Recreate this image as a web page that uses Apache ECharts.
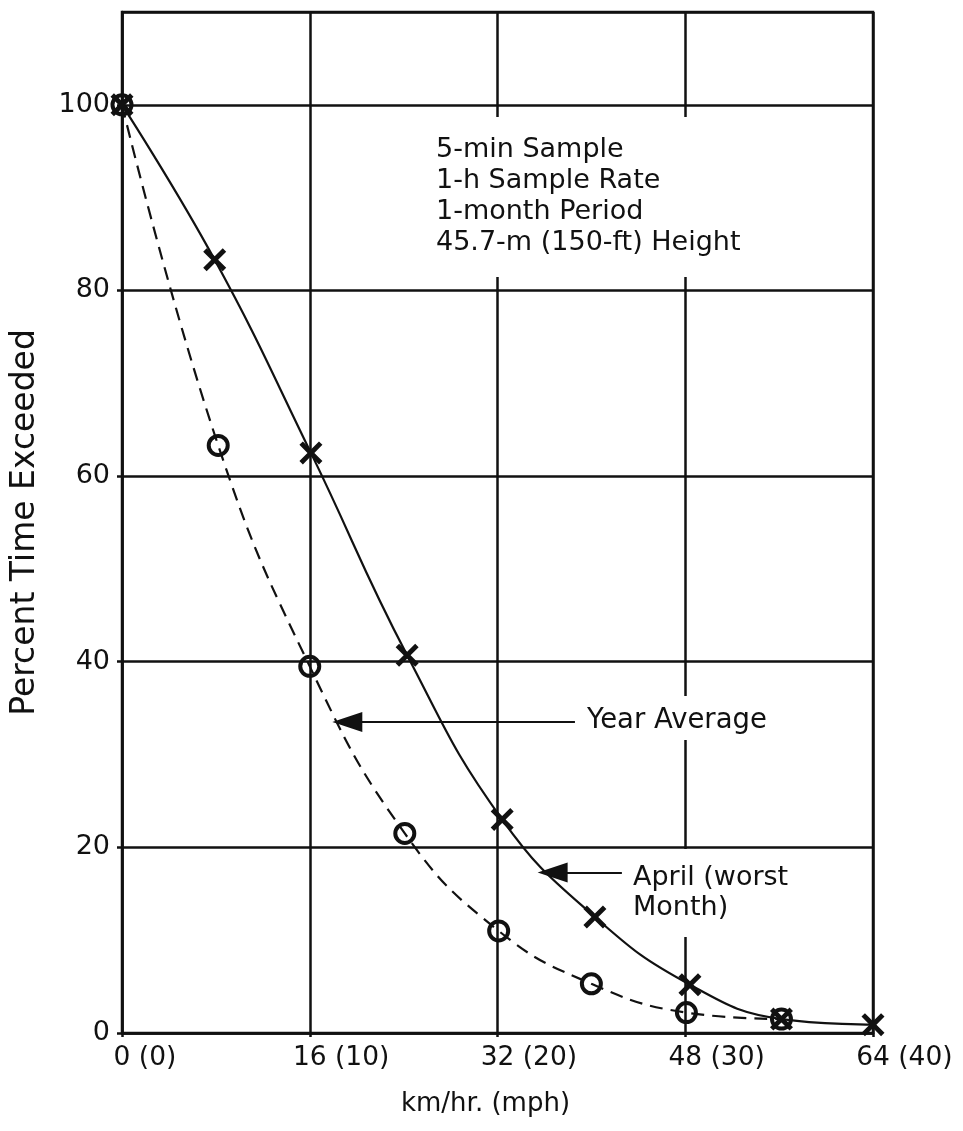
<!DOCTYPE html>
<html>
<head>
<meta charset="utf-8">
<script src="https://cdn.jsdelivr.net/npm/echarts@6/dist/echarts.min.js"></script>
<style>
html,body{margin:0;padding:0;background:#fff;}
#c{width:963px;height:1131px;}
</style>
</head>
<body>
<div id="c"></div>
<script>
// ---- data ----
const kmTicks = [0, 16, 32, 48, 64];
const mphTicks = [0, 10, 20, 30, 40];
const yTicks = [0, 20, 40, 60, 80, 100];

// April (worst month) – crosses, solid line
const aprilX = [0, 7.9, 16.1, 24.3, 32.4, 40.3, 48.4, 56.2, 64];
const aprilY = [100, 83.3, 62.5, 40.7, 23.0, 12.5, 5.2, 1.5, 0.9];

// Year average – circles, dashed line
const yearX = [0, 8.2, 16.0, 24.1, 32.1, 40.0, 48.1, 56.2];
const yearY = [100, 63.3, 39.5, 21.5, 11.0, 5.3, 2.2, 1.5];

const infoLines = ['5-min Sample', '1-h Sample Rate', '1-month Period', '45.7-m (150-ft) Height'];

// ---- chart ----
const INK = '#111';
const FONT = 'DejaVu Sans';
const crossPath = 'path://M0,15 L15,0 L50,35 L85,0 L100,15 L65,50 L100,85 L85,100 L50,65 L15,100 L0,85 L35,50 Z';

const chart = echarts.init(document.getElementById('c'), null, {renderer: 'canvas'});

function zip(xs, ys) { return xs.map((x, i) => [x, ys[i]]); }

const option = {
  backgroundColor: '#fff',
  animation: false,
  grid: {
    left: 122, right: 90, top: 12, bottom: 98,
    show: true, borderColor: INK, borderWidth: 2.5, backgroundColor: 'transparent'
  },
  xAxis: {
    type: 'value', min: 0, max: 64, interval: 16,
    name: 'km/hr. (mph)', nameLocation: 'middle', nameGap: 58,
    nameTextStyle: {fontFamily: FONT, fontSize: 26, color: INK, padding: [0, 24, 0, 0]},
    axisLine: {show: true, lineStyle: {color: INK, width: 2.5}},
    axisTick: {show: true, length: 4, lineStyle: {color: INK, width: 2.5}},
    splitLine: {show: true, lineStyle: {color: INK, width: 2.5}},
    axisLabel: {
      margin: 12, fontFamily: FONT, fontSize: 26, color: INK,
      formatter: function (v) {
        const i = kmTicks.indexOf(v);
        if (i < 0) return '';
        const suf = ' (' + mphTicks[i] + ')';
        return '{h|' + suf + '}{n|' + v + '}{s|' + suf + '}';
      },
      rich: {
        h: {fontFamily: FONT, fontSize: 26.5, color: 'rgba(0,0,0,0)'},
        n: {fontFamily: FONT, fontSize: 26.5, color: INK},
        s: {fontFamily: FONT, fontSize: 26.5, color: INK}
      }
    }
  },
  yAxis: {
    type: 'value', min: 0, max: 110, interval: 20,
    name: 'Percent Time Exceeded', nameLocation: 'middle', nameGap: 80,
    nameTextStyle: {fontFamily: FONT, fontSize: 33, color: INK},
    axisLine: {show: true, lineStyle: {color: INK, width: 2.5}},
    axisTick: {show: true, length: 5, lineStyle: {color: INK, width: 2.5}},
    splitLine: {show: true, lineStyle: {color: INK, width: 2.5}},
    axisLabel: {
      margin: 12, fontFamily: FONT, fontSize: 27, color: INK,
      showMaxLabel: false,
      formatter: function (v) { return yTicks.indexOf(v) >= 0 ? String(v) : ''; }
    }
  },
  series: [
    {
      name: 'Year Average', type: 'line', data: zip(yearX, yearY),
      smooth: 0.45,
      symbol: 'circle', symbolSize: 19, showAllSymbol: true,
      lineStyle: {color: INK, width: 2.2, type: [13, 8]},
      itemStyle: {color: 'rgba(0,0,0,0)', borderColor: INK, borderWidth: 4},
      z: 3,
      markLine: {
        silent: true, animation: false,
        symbol: ['none', 'triangle'], symbolSize: [20, 30],
        lineStyle: {color: INK, width: 2.2, type: 'solid'},
        label: {show: false},
        data: [[{coord: [38.6, 33.5]}, {coord: [19.2, 33.5]}]]
      }
    },
    {
      name: 'April (worst Month)', type: 'line', data: zip(aprilX, aprilY),
      smooth: 0.45,
      symbol: crossPath, symbolSize: 23, showAllSymbol: true,
      lineStyle: {color: INK, width: 2.2, type: 'solid'},
      itemStyle: {color: INK, borderWidth: 0},
      z: 4,
      markLine: {
        silent: true, animation: false,
        symbol: ['none', 'triangle'], symbolSize: [20, 30],
        lineStyle: {color: INK, width: 2.2, type: 'solid'},
        label: {show: false},
        data: [[{coord: [42.6, 17.3]}, {coord: [36.7, 17.3]}]]
      }
    }
  ],
  graphic: [
    {type: 'rect', z: 10, shape: {x: 428, y: 117, width: 325, height: 160}, style: {fill: '#fff'}},
    {type: 'text', z: 11, x: 436, y: 134,
      style: {text: infoLines.join('\n'), font: '27px "DejaVu Sans"', fill: INK, lineHeight: 31, verticalAlign: 'top'}},
    {type: 'rect', z: 10, shape: {x: 580, y: 696, width: 200, height: 44}, style: {fill: '#fff'}},
    {type: 'text', z: 11, x: 587, y: 721,
      style: {text: 'Year Average', font: '27.5px "DejaVu Sans"', fill: INK, verticalAlign: 'middle'}},
    {type: 'rect', z: 10, shape: {x: 626, y: 849, width: 170, height: 88}, style: {fill: '#fff'}},
    {type: 'text', z: 11, x: 633, y: 863,
      style: {text: 'April (worst\nMonth)', font: '27px "DejaVu Sans"', fill: INK, lineHeight: 30, verticalAlign: 'top'}}
  ]
};
chart.setOption(option);
</script>
</body>
</html>
